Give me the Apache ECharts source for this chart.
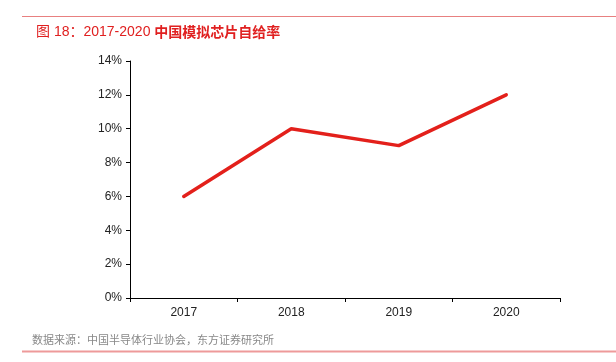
<!DOCTYPE html>
<html><head><meta charset="utf-8">
<script src="https://cdn.jsdelivr.net/npm/echarts@6/dist/echarts.min.js"></script>
<style>html,body{margin:0;padding:0;background:#fff}#c{width:616px;height:362px}</style>
</head><body><div id="c"></div>
<script>
const categories = ['2017', '2018', '2019', '2020'];
const selfSufficiency = [6, 10, 9, 12];
const yTicks = { min: 0, max: 14, interval: 2 };

const chart = echarts.init(document.getElementById('c'), null, { renderer: 'canvas' });
chart.setOption({
  animation: false,
  backgroundColor: '#fff',
  title: {
    text: '{a|图 18：2017-2020 }{b|中国模拟芯片自给率}',
    left: 31, top: 20,
    textStyle: {
      fontWeight: 'normal',
      rich: {
        a: { fontSize: 14, color: '#e02020', fontWeight: 'normal', fontFamily: '"Liberation Sans", "Noto Sans CJK SC", sans-serif' },
        b: { fontSize: 14, color: '#e02020', fontWeight: 'bold', fontFamily: '"Noto Sans CJK SC", sans-serif' }
      }
    }
  },
  graphic: [
    { type: 'line', shape: { x1: 22, y1: 16.5, x2: 616, y2: 16.5 }, style: { stroke: '#e88080', lineWidth: 1 } },
    { type: 'line', shape: { x1: 22, y1: 351.5, x2: 616, y2: 351.5 }, style: { stroke: '#ee9a9a', lineWidth: 2 } },
    { type: 'text', left: 32, top: 334, style: { text: '数据来源：中国半导体行业协会，东方证券研究所', fontSize: 11, fill: '#888', fontFamily: '"Noto Sans CJK SC", sans-serif' } }
  ],
  grid: { left: 130, right: 56, top: 61, bottom: 64 },
  xAxis: {
    type: 'category',
    data: categories,
    boundaryGap: true,
    axisLine: { lineStyle: { color: '#000', width: 1 } },
    axisTick: { show: true, length: 4, inside: false, lineStyle: { color: '#000' } },
    axisLabel: { color: '#222', fontSize: 12, margin: 9, fontFamily: '"Liberation Sans", Arial, sans-serif' },
    splitLine: { show: false }
  },
  yAxis: {
    type: 'value',
    min: yTicks.min, max: yTicks.max, interval: yTicks.interval,
    axisLine: { show: true, lineStyle: { color: '#000', width: 1 } },
    axisTick: { show: true, length: 4, lineStyle: { color: '#000' } },
    axisLabel: { color: '#222', fontSize: 12, margin: 8, formatter: '{value}%', fontFamily: '"Liberation Sans", Arial, sans-serif' },
    splitLine: { show: false }
  },
  series: [{
    type: 'line',
    data: selfSufficiency,
    symbol: 'none',
    lineStyle: { color: '#e3201b', width: 3.5, cap: 'round' },
    itemStyle: { color: '#e3201b' }
  }]
});
</script></body></html>
